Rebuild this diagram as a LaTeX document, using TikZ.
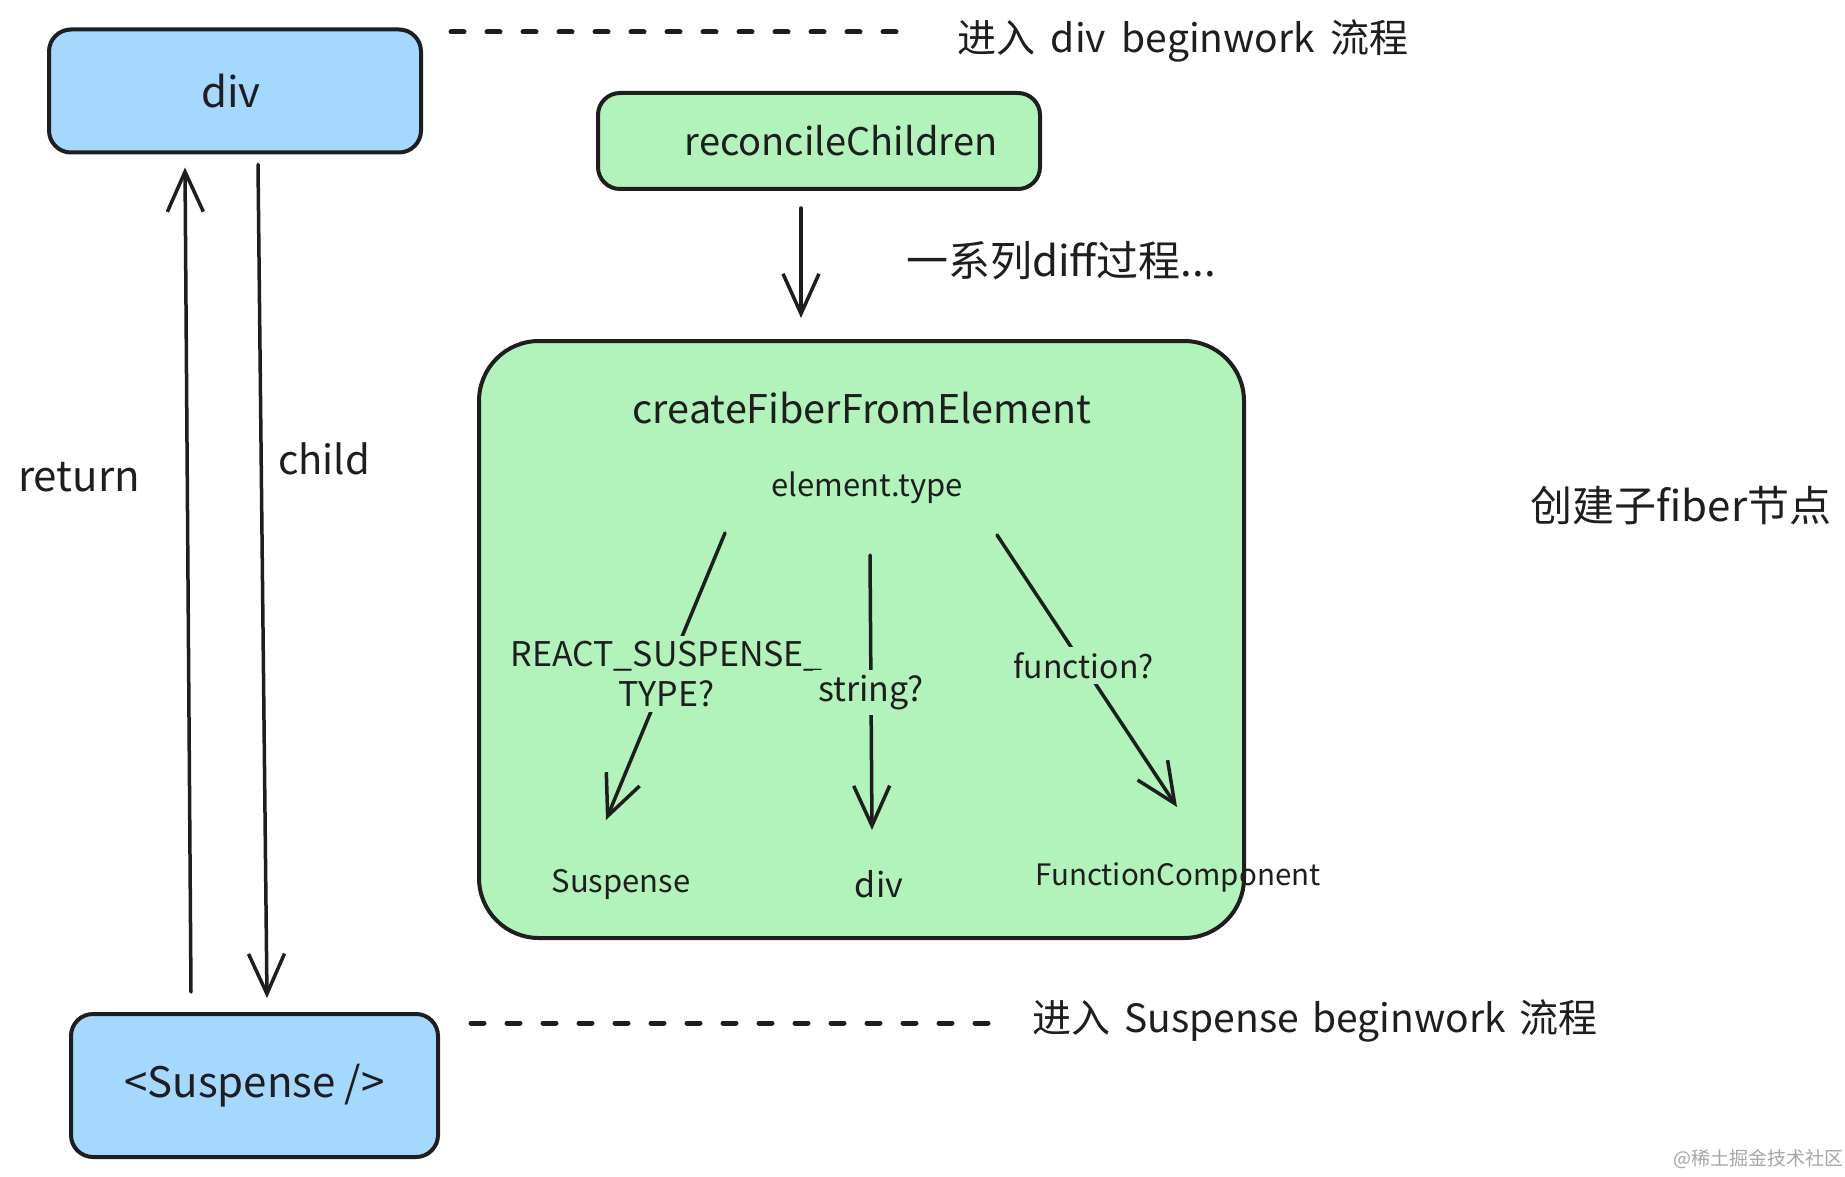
\documentclass[tikz,border=0pt]{standalone}
\usepackage{fontspec}
\setmainfont{Noto Sans CJK SC}
\usetikzlibrary{arrows.meta}
\definecolor{ink}{HTML}{1E1E1E}
\definecolor{bluef}{HTML}{A5D8FF}
\definecolor{greenf}{HTML}{B2F2BB}
\tikzset{
  box/.style={draw=ink, line width=4pt, rounded corners=22pt, inner sep=0pt},
  big/.style={inner sep=0pt, text=ink, font=\fontsize{42}{48}\selectfont},
  small/.style={inner sep=0pt, text=ink, font=\fontsize{34}{40}\selectfont, align=center},
  smaller/.style={inner sep=0pt, text=ink, font=\fontsize{31}{36}\selectfont, align=center},
  arr/.style={draw=ink, line width=3.5pt, line cap=round, line join=round,
    -{Straight Barb[length=40pt,width=36pt,line width=3.5pt]}},
  dashln/.style={draw=ink, line width=5pt, line cap=round, dash pattern=on 13pt off 23pt},
  lbl/.style={small, fill=greenf, inner sep=5pt},
}
\begin{document}
\begin{tikzpicture}[x=1pt,y=-1pt]
\fill[white] (0,0) rectangle (1845,1177);
\useasboundingbox (0,0) rectangle (1845,1177);

% boxes
\node[box, fill=bluef, minimum width=372pt, minimum height=123pt] (div) at (235,91) {};
\node[big] at ([xshift=-4pt]div.center) {div};
\node[box, fill=greenf, minimum width=442pt, minimum height=96pt] (rc) at (819,141) {};
\node[big, font=\fontsize{38}{44}\selectfont] at ([xshift=22pt]rc.center) {reconcileChildren};
\node[box, fill=greenf, rounded corners=60pt, minimum width=765pt, minimum height=597pt] (cf) at (861.5,639.5) {};
\node[box, fill=bluef, minimum width=367pt, minimum height=143pt] (sus) at (254.5,1085.5) {};
\node[big] at (sus.center) {<Suspense />};

% texts
\node[big, font=\fontsize{39.5}{44}\selectfont] (title) at (862,408) {createFiberFromElement};
\node[smaller] (et) at (867,488) {element.type};
\node[smaller] (ns) at (621,884) {Suspense};
\node[small] (nd) at (879,884) {div};
\node[smaller, font=\fontsize{29.5}{34}\selectfont] (nfc) at (1178,877) {FunctionComponent};
\node[big, font=\fontsize{39}{44}\selectfont] (t1) at (1183,41) {进入\hspace{0.4em}div\hspace{0.4em}beginwork\hspace{0.4em}流程};
\node[big, font=\fontsize{39}{44}\selectfont] (t2) at (1315,1021) {进入\hspace{0.35em}Suspense\hspace{0.35em}beginwork\hspace{0.35em}流程};
\node[big] (t3) at (1061,261) {一系列diff过程...};
\node[big] (t4) at (1681,506) {创建子fiber节点};
\node[big] (tret) at (79,477) {return};
\node[big, font=\fontsize{40}{44}\selectfont] (tchild) at (324,459) {child};
\node[inner sep=0pt, text=black!35, font=\fontsize{19}{22}\selectfont] (wm) at (1758,1159) {@稀土掘金技术社区};

% dashed lines
\coordinate (d1) at (451,32);
\coordinate (d1e) at (904,32);
\coordinate (d2) at (471,1023);
\coordinate (d2e) at (995,1023);
\draw[dashln] (d1) -- (d1e);
\draw[dashln] (d2) -- (d2e);

% left arrows
\draw[arr] ([xshift=-63.5pt,yshift=20pt]sus.north) -- ([xshift=-50pt,yshift=-13pt]div.south);
\draw[arr] ([xshift=23pt,yshift=-10pt]div.south) -- ([xshift=12.5pt,yshift=14pt]sus.north);

% reconcile arrow
\draw[arr] ([xshift=-18pt,yshift=-17pt]rc.south) -- ([xshift=-60.5pt,yshift=21pt]cf.north);

% tree
\coordinate (s1) at (725,533);
\coordinate (s2) at (870,555);
\coordinate (s3) at (997,535);
\draw[arr] (s1) -- node[lbl, pos=0.49] {REACT\_SUSPENSE\_\\TYPE?} ([xshift=-15pt,yshift=64pt]ns.center);
\draw[arr] (s2) -- node[lbl, pos=0.5] {string?} ([xshift=-7pt,yshift=54pt]nd.center);
\draw[arr] (s3) -- node[lbl, pos=0.48, font=\fontsize{32}{36}\selectfont] {function?} ([xshift=-1pt,yshift=70pt]nfc.center);
\end{tikzpicture}
\end{document}
